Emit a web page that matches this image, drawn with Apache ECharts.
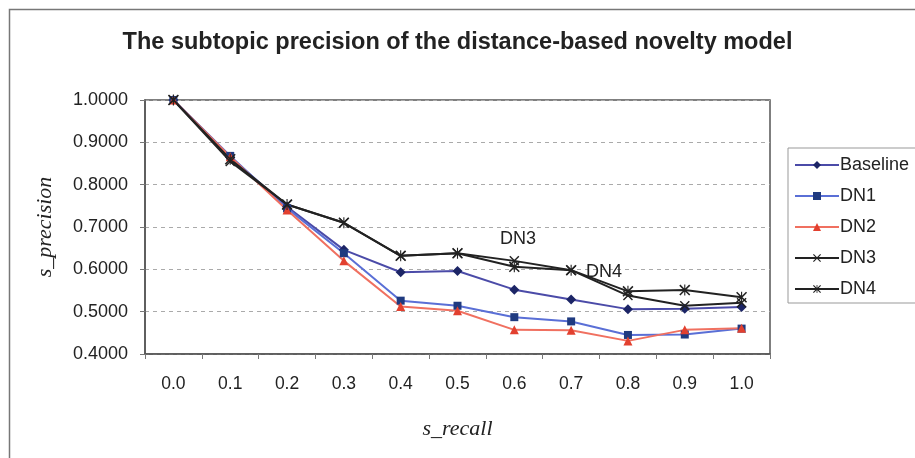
<!DOCTYPE html>
<html>
<head>
<meta charset="utf-8">
<script src="https://cdn.jsdelivr.net/npm/echarts@6/dist/echarts.min.js"></script>
<style>
  html, body { margin: 0; padding: 0; background: #fff; }
  #chart { width: 915px; height: 458px; }
</style>
</head>
<body>
<div id="chart"></div>
<script>
// s_recall levels
var recall = ['0.0', '0.1', '0.2', '0.3', '0.4', '0.5', '0.6', '0.7', '0.8', '0.9', '1.0'];

// s_precision per run
var baseline = [1.0, 0.865, 0.748, 0.646, 0.593, 0.596, 0.552, 0.529, 0.506, 0.507, 0.511];
var dn1      = [1.0, 0.868, 0.744, 0.638, 0.526, 0.514, 0.487, 0.477, 0.445, 0.446, 0.460];
var dn2      = [1.0, 0.866, 0.740, 0.620, 0.512, 0.502, 0.457, 0.456, 0.431, 0.457, 0.461];
var dn3      = [1.0, 0.855, 0.753, 0.710, 0.632, 0.638, 0.620, 0.598, 0.538, 0.514, 0.521];
var dn4      = [1.0, 0.860, 0.753, 0.710, 0.632, 0.638, 0.606, 0.598, 0.548, 0.551, 0.534];

var yTicks = { min: 0.4, max: 1.0, step: 0.1 };

// marker shapes (x and asterisk)
var crossPath = 'path://M0,1L1,0L10,9L9,10ZM9,0L10,1L1,10L0,9Z';
var starPath  = 'path://M0,1L1,0L10,9L9,10ZM9,0L10,1L1,10L0,9ZM4.5,0L5.5,0L5.5,10L4.5,10Z';

var chart = echarts.init(document.getElementById('chart'));

function line(name, data, lineColor, symbol, symColor, size) {
  return {
    name: name,
    type: 'line',
    data: data,
    symbol: symbol,
    symbolSize: size,
    lineStyle: { color: lineColor, width: 2 },
    itemStyle: { color: symColor },
    emphasis: { disabled: true },
    z: 3
  };
}

var serifItalic = { fontFamily: 'Liberation Serif, Times New Roman, serif', fontStyle: 'italic', fontSize: 22, color: '#222' };

var option = {
  animation: false,
  backgroundColor: '#fff',
  textStyle: { fontFamily: 'Liberation Sans, Arial, sans-serif' },
  title: {
    text: 'The subtopic precision of the distance-based novelty model',
    left: 'center',
    top: 26,
    textStyle: { fontSize: 23.5, fontWeight: 'bold', color: '#222' }
  },
  grid: {
    left: 145, right: 145, top: 100, bottom: 104,
    show: true, borderColor: '#555', borderWidth: 1.5, backgroundColor: '#fff'
  },
  legend: {
    orient: 'vertical',
    left: 788, top: 148,
    itemWidth: 44, itemHeight: 10, itemGap: 13,
    padding: [8, 20, 5, 6],
    borderColor: '#999', borderWidth: 1,
    backgroundColor: '#fff',
    textStyle: { fontSize: 18, color: '#222', padding: [0, 0, 0, -4] },
    data: ['Baseline', 'DN1', 'DN2', 'DN3', 'DN4']
  },
  xAxis: {
    type: 'category',
    data: recall,
    boundaryGap: true,
    name: 's_recall',
    nameLocation: 'middle',
    nameGap: 64,
    nameTextStyle: serifItalic,
    axisLine: { lineStyle: { color: '#555', width: 1.5 } },
    axisTick: { show: true, length: 5, lineStyle: { color: '#777' } },
    axisLabel: { fontSize: 17.5, color: '#222', margin: 21 },
    splitLine: { show: false }
  },
  yAxis: {
    type: 'value',
    min: yTicks.min, max: yTicks.max, interval: yTicks.step,
    name: 's_precision',
    nameLocation: 'middle',
    nameGap: 89,
    nameTextStyle: serifItalic,
    axisLine: { show: true, lineStyle: { color: '#555', width: 1.5 } },
    axisTick: { show: true, length: 5, lineStyle: { color: '#777' } },
    axisLabel: { fontSize: 18, color: '#222', margin: 17, formatter: function (v) { return v.toFixed(4); } },
    splitLine: { show: true, lineStyle: { color: '#aaa', type: [4, 4], width: 1 } }
  },
  graphic: [
    { type: 'rect', left: 7, top: 7, shape: { width: 920, height: 460 }, style: { fill: 'none', stroke: '#777', lineWidth: 1.5 }, silent: true, z: -1 },
    { type: 'text', left: 500, top: 230, style: { text: 'DN3', fontSize: 18, fill: '#222', fontFamily: 'Liberation Sans, Arial, sans-serif' }, z: 10 },
    { type: 'text', left: 586, top: 263, style: { text: 'DN4', fontSize: 18, fill: '#222', fontFamily: 'Liberation Sans, Arial, sans-serif' }, z: 10 }
  ],
  series: [
    line('Baseline', baseline, '#4b4ba8', 'diamond', '#1c2566', 10),
    line('DN1', dn1, '#5a6fd6', 'rect', '#1f3a80', 8),
    line('DN2', dn2, '#f07060', 'triangle', '#e2402f', 9),
    line('DN3', dn3, '#222', crossPath, '#222', 10),
    line('DN4', dn4, '#222', starPath, '#222', 11)
  ]
};

chart.setOption(option);
</script>
</body>
</html>
